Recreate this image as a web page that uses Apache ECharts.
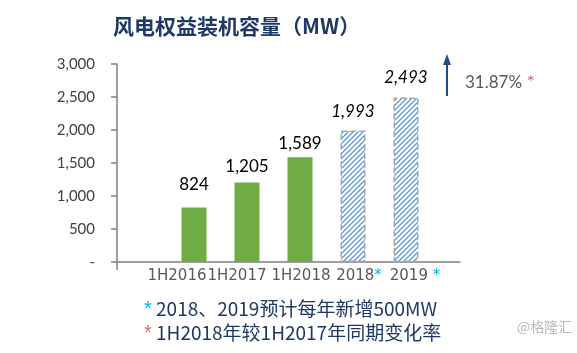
<!DOCTYPE html>
<html>
<head>
<meta charset="utf-8">
<script src="https://cdn.jsdelivr.net/npm/echarts@6/dist/echarts.min.js"></script>
<style>
  html, body { margin: 0; padding: 0; background: #fff; }
  #main { width: 577px; height: 353px; }
</style>
</head>
<body>
<div id="main"></div>
<script>
var categories = ['1H2016', '1H2017', '1H2018', '2018', '2019'];
var actualValues = [824, 1205, 1589, null, null];
var forecastValues = [null, null, null, 1993, 2493];
var yTicks = [0, 500, 1000, 1500, 2000, 2500, 3000];
var growthText = '31.87%';
var noteLines = ['2018、2019预计每年新增500MW', '1H2018年较1H2017年同期变化率'];

// label tweaks so things sit like the original (px, + = move left, - = move right)
var labelShift = [17, 10, -1, -6, -9];
var valueLabelGap = [15, 7, 5, 10, 11];

var chartDom = document.getElementById('main');
var myChart = echarts.init(chartDom);

// hatch pattern for forecast bars
var hatch = document.createElement('canvas');
hatch.width = 5;
hatch.height = 5;
var hctx = hatch.getContext('2d');
hctx.fillStyle = '#fff';
hctx.fillRect(0, 0, 5, 5);
hctx.strokeStyle = '#5b9bd5';
hctx.lineWidth = 1.3;
hctx.beginPath();
hctx.moveTo(-1, 6); hctx.lineTo(6, -1);
hctx.moveTo(-1, 1); hctx.lineTo(1, -1);
hctx.moveTo(4, 6); hctx.lineTo(6, 4);
hctx.stroke();

var labelFont = 'Lato, "Open Sans", sans-serif';
var catFont = '"DejaVu Sans", sans-serif';

function withGap(values) {
  return values.map(function (v, i) {
    return v == null ? null : { value: v, label: { distance: valueLabelGap[i] } };
  });
}

var catRich = { s: { fontFamily: catFont, fontSize: 15, color: '#00b0f0' } };
labelShift.forEach(function (d, i) {
  var pad = d > 0 ? [0, 2 * d, 0, 0] : [0, 0, 0, -2 * d];
  catRich['a' + i] = { fontFamily: catFont, fontSize: 15, color: '#595959', padding: pad };
});

var option = {
  animation: false,
  title: {
    text: '风电权益装机容量（MW）',
    left: 108,
    top: 11,
    textStyle: {
      fontFamily: '"Noto Sans CJK SC", serif',
      fontSize: 21,
      fontWeight: 'bold',
      color: '#203864'
    }
  },
  grid: [
    { left: 117, right: 117, top: 64, bottom: 91 },
    { left: 167.5, width: 265, top: 64, bottom: 91 }
  ],
  xAxis: [
    {
      gridIndex: 0,
      type: 'value',
      min: 0,
      max: 1,
      interval: 1,
      axisLine: { show: true, lineStyle: { color: '#808080', width: 1.5 } },
      axisTick: { show: true, customValues: [0], length: 8, lineStyle: { color: '#808080', width: 1.5 } },
      axisLabel: { show: false },
      splitLine: { show: false }
    },
    {
      gridIndex: 1,
      type: 'category',
      data: categories,
      axisLine: { show: false },
      axisTick: { show: false },
      axisLabel: {
        interval: 0,
        margin: 7,
        formatter: function (v, i) {
          var star = v === '2018' ? '{s|*}' : (v === '2019' ? '{s| *}' : '');
          return '{a' + i + '|' + v + '}' + star;
        },
        rich: catRich
      }
    }
  ],
  yAxis: [
    {
      gridIndex: 0,
      type: 'value',
      min: 0,
      max: 3000,
      interval: 500,
      axisLine: { show: true, lineStyle: { color: '#808080', width: 1.5 } },
      axisTick: { show: true, inside: false, length: 6, lineStyle: { color: '#808080', width: 1.5 } },
      splitLine: { show: false },
      axisLabel: {
        margin: 22,
        fontFamily: labelFont,
        fontSize: 15,
        color: '#404040',
        formatter: function (v) {
          return v === 0 ? '-' : v.toLocaleString('en-US');
        }
      }
    },
    {
      gridIndex: 1,
      type: 'value',
      min: 0,
      max: 3000,
      show: false
    }
  ],
  series: [
    {
      name: 'actual',
      type: 'bar',
      xAxisIndex: 1,
      yAxisIndex: 1,
      data: withGap(actualValues),
      barWidth: 25,
      itemStyle: { color: '#70ad47' },
      label: {
        show: true,
        position: 'top',
        fontFamily: labelFont,
        fontSize: 17,
        color: '#000',
        formatter: function (p) { return p.value.toLocaleString('en-US'); }
      }
    },
    {
      name: 'forecast',
      type: 'bar',
      xAxisIndex: 1,
      yAxisIndex: 1,
      data: withGap(forecastValues),
      barWidth: 25,
      barGap: '-100%',
      itemStyle: {
        color: { image: hatch, repeat: 'repeat' },
        borderColor: '#a6a6a6',
        borderWidth: 1.5,
        borderType: 'dashed'
      },
      label: {
        show: true,
        position: 'top',
        fontFamily: labelFont,
        fontSize: 17,
        fontStyle: 'italic',
        color: '#000',
        formatter: function (p) { return p.value.toLocaleString('en-US'); }
      }
    }
  ],
  graphic: [
    {
      type: 'line',
      shape: { x1: 447, y1: 62, x2: 447, y2: 96 },
      style: { stroke: '#1f4e8a', lineWidth: 2 }
    },
    {
      type: 'polygon',
      shape: { points: [[447, 54], [443, 65], [451, 65]] },
      style: { fill: '#1f4e8a' }
    },
    {
      type: 'text',
      left: 465,
      top: 73,
      style: {
        text: growthText + ' {r|*}',
        fontFamily: labelFont,
        fontSize: 17,
        fill: '#595959',
        rich: { r: { fontFamily: labelFont, fontSize: 20, fill: '#e06c6c' } }
      }
    },
    {
      type: 'text',
      left: 144,
      top: 299,
      style: {
        text: '{s|*} ' + noteLines[0],
        fontFamily: '"Noto Sans CJK SC", sans-serif',
        fontSize: 19,
        fill: '#1f3864',
        rich: { s: { fontSize: 20, fill: '#00b0f0' } }
      }
    },
    {
      type: 'text',
      left: 144,
      top: 323,
      style: {
        text: '{s|*} ' + noteLines[1],
        fontFamily: '"Noto Sans CJK SC", sans-serif',
        fontSize: 19,
        fill: '#1f3864',
        rich: { s: { fontSize: 20, fill: '#e06c6c' } }
      }
    },
    {
      type: 'text',
      left: 517,
      top: 320,
      style: {
        text: '@格隆汇',
        fontFamily: '"Noto Sans CJK SC", sans-serif',
        fontSize: 14,
        fill: '#b8b8b8'
      }
    }
  ]
};

option && myChart.setOption(option);
</script>
</body>
</html>
